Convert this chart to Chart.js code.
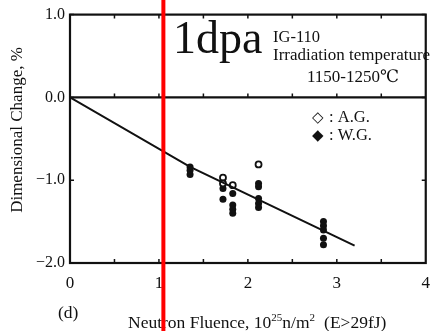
<!DOCTYPE html>
<html>
<head>
<meta charset="utf-8">
<script src="https://cdn.jsdelivr.net/npm/chart.js@4.4.1/dist/chart.umd.min.js"></script>
<style>
html, body { margin: 0; padding: 0; background: #fff; }
#wrap { width: 440px; height: 331px; }
</style>
</head>
<body>
<div id="wrap"><canvas id="c" width="440" height="331"></canvas></div>
<script>
// values (IG-110 graphite)
const agFluence = [1.72, 1.72, 1.83, 2.12];
const agChange = [-0.97, -1.04, -1.06, -0.81];
const wgFluence = [1.35, 1.35, 1.35, 1.72, 1.72, 1.83, 1.83, 1.83, 1.83,
	2.12, 2.12, 2.12, 2.12, 2.12, 2.85, 2.85, 2.85, 2.85, 2.85];
const wgChange = [-0.84, -0.88, -0.93, -1.10, -1.23, -1.16, -1.30, -1.35, -1.40,
	-1.04, -1.08, -1.22, -1.28, -1.33, -1.50, -1.55, -1.60, -1.70, -1.78];
const fitFluence = [0, 1.35, 3.2];
const fitChange = [0, -0.84, -1.79];
const xTicks = [0, 1, 2, 3, 4];
const yTicks = [1, 0, -1, -2];
const dpaFluence = 1.05;

const SERIF = '"Liberation Serif", "DejaVu Serif", serif';

function pts(xs, ys) {
	return xs.map((x, i) => ({ x: x, y: ys[i] }));
}

function txt(ctx, s, x, y, size, align, family) {
	ctx.font = size + 'px ' + (family || SERIF);
	ctx.textAlign = align || 'left';
	ctx.textBaseline = 'alphabetic';
	ctx.fillStyle = '#111';
	ctx.fillText(s, x, y);
	return ctx.measureText(s).width;
}

// frame, zero line and the little inward ticks of the scan
const framePlugin = {
	id: 'frame',
	beforeDatasetsDraw(chart) {
		const ctx = chart.ctx, a = chart.chartArea;
		const xs = chart.scales.x, ys = chart.scales.y;
		ctx.save();
		ctx.strokeStyle = '#111';
		ctx.lineWidth = 2.2;
		ctx.strokeRect(a.left, a.top, a.right - a.left, a.bottom - a.top);
		const y0 = ys.getPixelForValue(0);
		ctx.beginPath();
		ctx.moveTo(a.left, y0);
		ctx.lineTo(a.right, y0);
		ctx.stroke();
		ctx.lineWidth = 1.5;
		ctx.beginPath();
		for (let v = 0.5; v < 4; v += 0.5) {
			const px = xs.getPixelForValue(v);
			ctx.moveTo(px, a.bottom); ctx.lineTo(px, a.bottom - 4);
			ctx.moveTo(px, a.top); ctx.lineTo(px, a.top + 4);
			ctx.moveTo(px, y0); ctx.lineTo(px, y0 - 4);
		}
		yTicks.forEach(v => {
			const py = ys.getPixelForValue(v);
			ctx.moveTo(a.left, py); ctx.lineTo(a.left + 4, py);
			ctx.moveTo(a.right, py); ctx.lineTo(a.right - 4, py);
		});
		ctx.stroke();
		ctx.restore();
	}
};

// texts of the figure and the red 1 dpa marker
const notePlugin = {
	id: 'notes',
	afterDraw(chart) {
		const ctx = chart.ctx;
		const xs = chart.scales.x;
		ctx.save();

		// y title
		ctx.save();
		ctx.translate(18, 130);
		ctx.rotate(-Math.PI / 2);
		ctx.font = '17px ' + SERIF;
		ctx.textAlign = 'center';
		ctx.textBaseline = 'middle';
		ctx.fillStyle = '#111';
		ctx.fillText('Dimensional Change, %', 0, 0);
		ctx.restore();

		// x title with superscripts
		let x = 128;
		const base = 328;
		x += txt(ctx, 'Neutron Fluence, 10', x, base, 17.5);
		x += txt(ctx, '25', x, base - 7, 11);
		x += txt(ctx, 'n/m', x, base, 17.5);
		x += txt(ctx, '2', x, base - 7, 11);
		txt(ctx, '(E>29fJ)', x + 9, base, 17.5);

		txt(ctx, '(d)', 58, 318, 17.5);

		txt(ctx, 'IG-110', 273, 42, 16.5);
		txt(ctx, 'Irradiation temperature', 273, 60, 17);
		txt(ctx, '1150-1250℃', 307, 82, 17);

		txt(ctx, '◇', 312, 122, 15, 'left', '"DejaVu Sans"');
		txt(ctx, ': A.G.', 329, 122, 16.5);
		txt(ctx, '◆', 312, 140, 15, 'left', '"DejaVu Sans"');
		txt(ctx, ': W.G.', 329, 140, 16.5);

		txt(ctx, '1dpa', 173, 53, 46);

		const rx = xs.getPixelForValue(dpaFluence);
		ctx.strokeStyle = '#ff0000';
		ctx.lineWidth = 4;
		ctx.beginPath();
		ctx.moveTo(rx, 0);
		ctx.lineTo(rx, chart.height);
		ctx.stroke();
		ctx.restore();
	}
};

new Chart(document.getElementById('c'), {
	type: 'scatter',
	data: {
		datasets: [{
			label: 'fit',
			type: 'line',
			data: pts(fitFluence, fitChange),
			borderColor: '#111',
			borderWidth: 2,
			pointRadius: 0,
			tension: 0,
			fill: false
		}, {
			label: 'A.G.',
			data: pts(agFluence, agChange),
			pointStyle: 'circle',
			pointRadius: 3,
			pointBorderWidth: 1.8,
			pointBackgroundColor: '#fff',
			pointBorderColor: '#111'
		}, {
			label: 'W.G.',
			data: pts(wgFluence, wgChange),
			pointStyle: 'circle',
			pointRadius: 3.5,
			pointBorderWidth: 0,
			pointBackgroundColor: '#111',
			pointBorderColor: '#111'
		}]
	},
	options: {
		responsive: false,
		animation: false,
		devicePixelRatio: 1,
		layout: { padding: { left: 0, top: 14, right: 7, bottom: 0 } },
		plugins: {
			legend: { display: false },
			tooltip: { enabled: false }
		},
		scales: {
			x: {
				type: 'linear',
				position: 'bottom',
				min: 0,
				max: 4,
				afterBuildTicks: s => { s.ticks = xTicks.map(v => ({ value: v })); },
				afterFit: s => { s.height = 68; },
				grid: { display: false, drawTicks: false },
				border: { display: false },
				ticks: {
					padding: 10,
					color: '#111',
					font: { family: SERIF, size: 17 }
				}
			},
			y: {
				type: 'linear',
				min: -2,
				max: 1,
				afterBuildTicks: s => { s.ticks = yTicks.map(v => ({ value: v })); },
				afterFit: s => { s.width = 70; },
				grid: { display: false, drawTicks: false },
				border: { display: false },
				ticks: {
					padding: 5,
					color: '#111',
					font: { family: SERIF, size: 16 },
					callback: v => (v < 0 ? '−' : '') + Math.abs(v).toFixed(1)
				}
			}
		}
	},
	plugins: [framePlugin, notePlugin]
});
</script>
</body>
</html>
